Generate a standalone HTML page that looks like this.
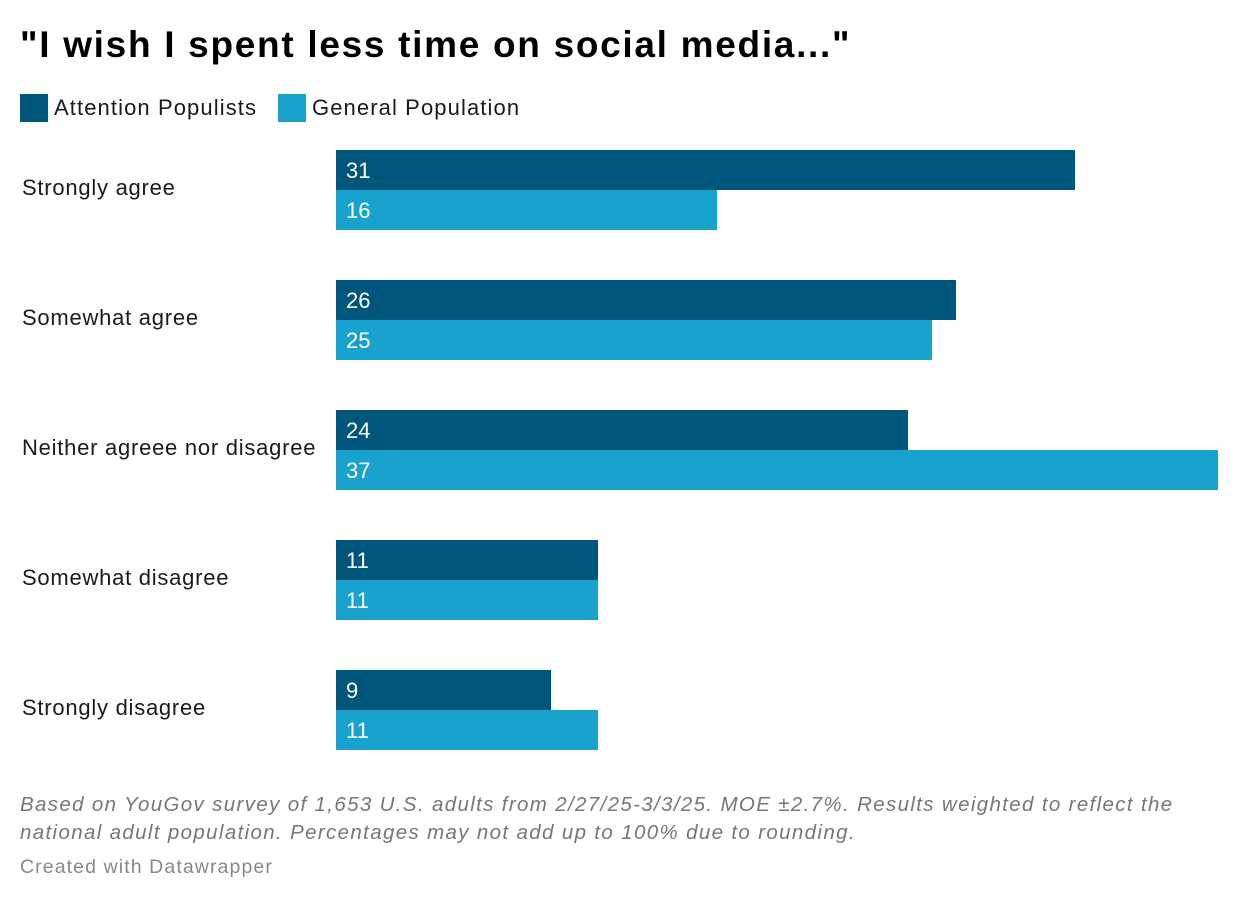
<!DOCTYPE html>
<html><head><meta charset="utf-8"><style>
body{margin:0;background:#fff;font-family:"Liberation Sans",sans-serif;width:1240px;height:902px;position:relative;overflow:hidden;color:#1a1a1a}
.t{position:absolute;white-space:nowrap}
</style></head><body>
<div class="t" style="left:20px;top:24px;font-size:37px;font-weight:bold;color:#000;letter-spacing:1.7px">"I wish I spent less time on social media..."</div>
<div>
<div class="t" style="left:20px;top:94px;width:28px;height:28px;background:#00557a"></div>
<div class="t" style="left:54px;top:95px;font-size:22px;letter-spacing:1.1px">Attention Populists</div>
<div class="t" style="left:278px;top:94px;width:28px;height:28px;background:#19a2cd"></div>
<div class="t" style="left:312px;top:95px;font-size:22px;letter-spacing:1.1px">General Population</div>
</div>
<div id="chart"></div>
<div class="t" style="left:20px;top:791px;font-size:20.5px;font-style:italic;color:#777;line-height:28px;letter-spacing:1.35px">Based on YouGov survey of 1,653 U.S. adults from 2/27/25-3/3/25. MOE ±2.7%. Results weighted to reflect the<br>national adult population. Percentages may not add up to 100% due to rounding.</div>
<div class="t" style="left:20px;top:856px;font-size:19.5px;color:#888;letter-spacing:1.1px">Created with Datawrapper</div>
<script>
const categories=["Strongly agree","Somewhat agree","Neither agreee nor disagree","Somewhat disagree","Strongly disagree"];
const attention=[31,26,24,11,9];
const general=[16,25,37,11,11];
const c=document.getElementById('chart');
const x0=336,scale=882/37,top0=150,bh=40,gap=130;
function xw(v){return v*scale;}
function mk(css,txt){const d=document.createElement('div');d.className='t';d.style.cssText=css;if(txt!==undefined)d.textContent=txt;c.appendChild(d);return d;}
categories.forEach((cat,i)=>{
 const y=top0+i*gap;
 const l=mk(`left:22px;top:${y+25}px;font-size:22px;letter-spacing:0.75px`,cat);
 
 
 [[attention,'#00557a',0,'bar-attention'],[general,'#19a2cd',bh,'bar-general']].forEach(([arr,col,off,nm])=>{
  const b=mk(`left:${x0}px;top:${y+off}px;width:${xw(arr[i])}px;height:${bh}px;background:${col}`);
  
  
  const v=mk(`left:${x0+10}px;top:${y+off+8}px;font-size:22px;color:#fff`,String(arr[i]));
  
  
 });
});
</script>
</body></html>
